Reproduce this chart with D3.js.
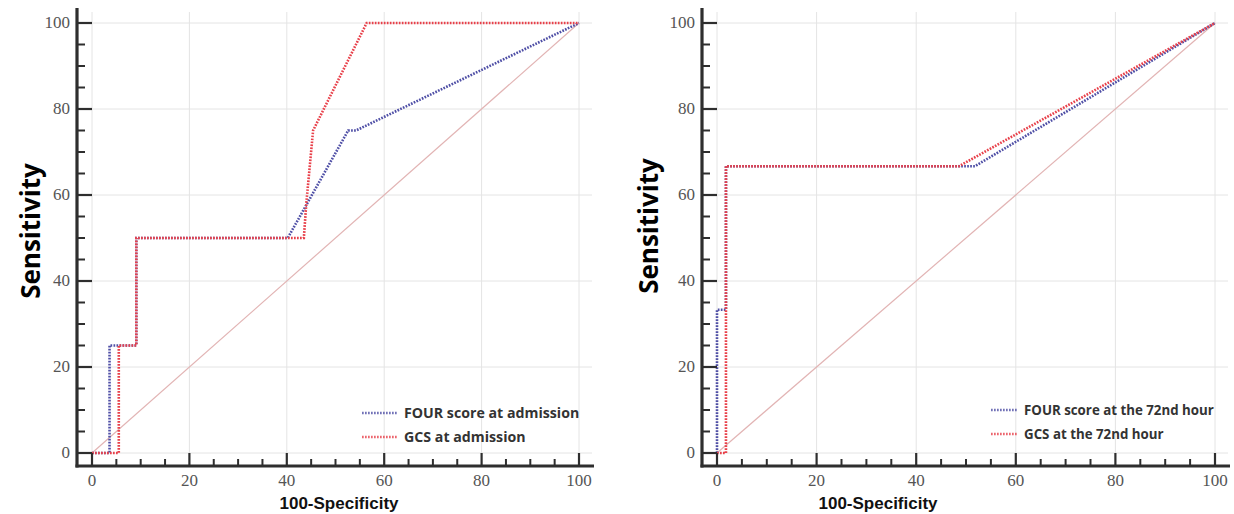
<!DOCTYPE html>
<html>
<head>
<meta charset="utf-8">
<script src="https://cdn.jsdelivr.net/npm/d3@7"></script>
<style>
  body { margin: 0; background: #fff; }
  svg { display: block; }
  .tick-label { font-family: "Liberation Serif", "DejaVu Serif", serif; font-size: 17px; fill: #555; }
  .ylab { font-family: "Open Sans", sans-serif; font-weight: 700; font-size: 26px; fill: #000; }
  .xlab { font-family: "Liberation Sans", Arial, sans-serif; font-weight: 700; font-size: 17px; fill: #111; }
  .leg { font-family: "Open Sans", sans-serif; font-weight: 700; fill: #333; }
</style>
</head>
<body>
<svg id="chart" width="1234" height="514"></svg>
<script>
// axis ticks
var majorTicks = [0, 20, 40, 60, 80, 100];
var minorTicks = [5, 10, 15, 25, 30, 35, 45, 50, 55, 65, 70, 75, 85, 90, 95];

// left panel: admission
var fourAdmX = [0, 3.6, 3.6, 9.1, 9.1, 40.2, 52.6, 54.2, 100];
var fourAdmY = [0, 0, 25, 25, 50, 50, 75, 75, 100];
var gcsAdmX  = [0, 5.5, 5.5, 9.1, 9.1, 43.5, 44.0, 45.4, 56.4, 100];
var gcsAdmY  = [0, 0, 25, 25, 50, 50, 58, 75, 100, 100];

// right panel: 72nd hour
var four72X = [0, 0, 1.8, 1.8, 51.8, 100];
var four72Y = [0, 33.3, 33.3, 66.7, 66.7, 100];
var gcs72X  = [0, 1.8, 1.8, 48.6, 100];
var gcs72Y  = [0, 0, 66.7, 66.7, 100];

var refX = [0, 100];
var refY = [0, 100];

var blue = "#4f4fa6", red = "#e8404a";

function zip(xs, ys){ return xs.map(function(x, i){ return [x, ys[i]]; }); }

function draw_roc(svg, p){
    var xAxis = d3.scaleLinear().domain([0, 100]).range([p.x0, p.x1]);
    var yAxis = d3.scaleLinear().domain([0, 100]).range([453, 23]);
    var axX = p.x0 - 15, axY = 466;

    var line = d3.line()
        .x(function(d){ return xAxis(d[0]); })
        .y(function(d){ return yAxis(d[1]); });

    // grid
    var grid = svg.append("g");
    grid.selectAll("line.gx").data(majorTicks).enter().append("line")
        .attr("x1", function(d){ return xAxis(d); }).attr("x2", function(d){ return xAxis(d); })
        .attr("y1", 12).attr("y2", axY)
        .attr("stroke", "#e4e4e4").attr("stroke-width", 1);
    grid.selectAll("line.gy").data(majorTicks).enter().append("line")
        .attr("x1", axX).attr("x2", p.gridEnd)
        .attr("y1", function(d){ return yAxis(d); }).attr("y2", function(d){ return yAxis(d); })
        .attr("stroke", "#e4e4e4").attr("stroke-width", 1);

    // reference diagonal
    svg.append("path").datum(zip(refX, refY))
        .attr("d", line).attr("fill", "none")
        .attr("stroke", "#e2b4b4").attr("stroke-width", 1.2);

    // curves
    p.series.forEach(function(s){
        svg.append("path").datum(zip(s.x, s.y))
            .attr("d", line).attr("fill", "none")
            .attr("stroke", s.color).attr("stroke-width", 2.6)
            .attr("stroke-dasharray", "1.7,1.3");
    });

    // axes
    var ax = svg.append("g").attr("stroke", "#2e2e2e");
    ax.append("line").attr("x1", axX).attr("x2", axX).attr("y1", 8).attr("y2", axY + 1.5)
        .attr("stroke-width", 3.2);
    ax.append("line").attr("x1", axX - 1.5).attr("x2", p.axisEnd).attr("y1", axY).attr("y2", axY)
        .attr("stroke-width", 3.2);

    ax.selectAll("line.ty").data(majorTicks).enter().append("line")
        .attr("x1", axX).attr("x2", xAxis(0))
        .attr("y1", function(d){ return yAxis(d); }).attr("y2", function(d){ return yAxis(d); })
        .attr("stroke-width", 2.2);
    ax.selectAll("line.tym").data(minorTicks).enter().append("line")
        .attr("x1", axX).attr("x2", axX + 8)
        .attr("y1", function(d){ return yAxis(d); }).attr("y2", function(d){ return yAxis(d); })
        .attr("stroke-width", 2);
    ax.selectAll("line.tx").data(majorTicks).enter().append("line")
        .attr("x1", function(d){ return xAxis(d); }).attr("x2", function(d){ return xAxis(d); })
        .attr("y1", axY).attr("y2", yAxis(0))
        .attr("stroke-width", 2.2);
    ax.selectAll("line.txm").data(minorTicks).enter().append("line")
        .attr("x1", function(d){ return xAxis(d); }).attr("x2", function(d){ return xAxis(d); })
        .attr("y1", axY).attr("y2", axY - 7)
        .attr("stroke-width", 2);

    // tick labels
    svg.selectAll("text.yt" + p.id).data(majorTicks).enter().append("text")
        .attr("class", "tick-label")
        .attr("x", axX - 7).attr("y", function(d){ return yAxis(d) + 5; })
        .attr("text-anchor", "end").text(function(d){ return d; });
    svg.selectAll("text.xt" + p.id).data(majorTicks).enter().append("text")
        .attr("class", "tick-label")
        .attr("x", function(d){ return xAxis(d); }).attr("y", 486)
        .attr("text-anchor", "middle").text(function(d){ return d; });

    // axis titles
    svg.append("text").attr("class", "xlab")
        .attr("x", p.xlabX).attr("y", 509).attr("text-anchor", "middle")
        .text("100-Specificity");
    svg.append("text").attr("class", "ylab")
        .attr("transform", "translate(" + p.ylabX + "," + p.ylabY + ") rotate(-90)")
        .attr("text-anchor", "middle")
        .text("Sensitivity");

    // legend
    p.series.forEach(function(s, i){
        var ly = p.legY[i];
        svg.append("line")
            .attr("x1", p.legX0).attr("x2", p.legX1).attr("y1", ly).attr("y2", ly)
            .attr("stroke", s.color).attr("stroke-width", 2.4)
            .attr("stroke-dasharray", "1.7,1.3").attr("opacity", 0.8);
        svg.append("text").attr("class", "leg")
            .attr("x", p.legX1 + 6).attr("y", ly + 5)
            .style("font-size", p.legSize + "px")
            .text(s.name);
    });
}

var svg = d3.select("#chart");

draw_roc(svg, {
    id: "a", x0: 92, x1: 579, gridEnd: 592, axisEnd: 594,
    xlabX: 339, ylabX: 40, ylabY: 231,
    legX0: 362, legX1: 398, legY: [413, 437], legSize: 14.2,
    series: [
        { name: "FOUR score at admission", x: fourAdmX, y: fourAdmY, color: blue },
        { name: "GCS at admission", x: gcsAdmX, y: gcsAdmY, color: red }
    ]
});

draw_roc(svg, {
    id: "b", x0: 717, x1: 1215, gridEnd: 1228, axisEnd: 1230,
    xlabX: 878, ylabX: 658, ylabY: 226, legSize: 13.3,
    legX0: 991, legX1: 1018, legY: [410, 434],
    series: [
        { name: "FOUR score at the 72nd hour", x: four72X, y: four72Y, color: blue },
        { name: "GCS at the 72nd hour", x: gcs72X, y: gcs72Y, color: red }
    ]
});
</script>
</body>
</html>
